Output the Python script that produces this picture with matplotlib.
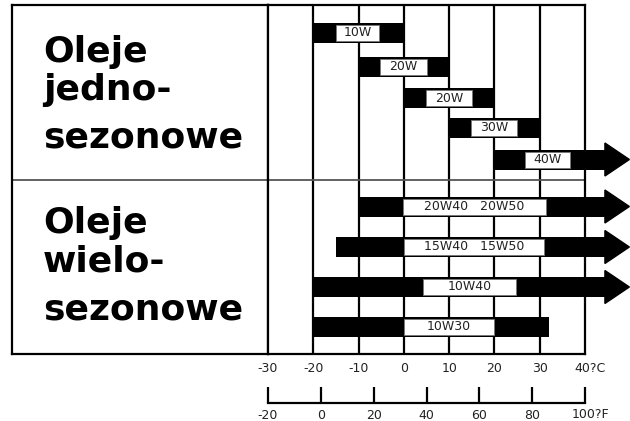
import matplotlib.pyplot as plt
from matplotlib.patches import Polygon, Rectangle
from matplotlib.transforms import blended_transform_factory

# oil grades and their temperature ranges (deg C), None = open ended (arrow)
single_grades = ["10W", "20W", "20W", "30W", "40W"]
single_min = [-20, -10, 0, 10, 20]
single_max = [0, 10, 20, 30, None]

multi_grades = ["20W40   20W50", "15W40   15W50", "10W40", "10W30"]
multi_min = [-10, -15, -20, -20]
multi_max = [None, None, None, 32]

c_ticks = [-30, -20, -10, 0, 10, 20, 30, 40]
f_ticks = [-20, 0, 20, 40, 60, 80, 100]
group_titles = [["Oleje", "jedno-", "sezonowe"], ["Oleje", "wielo-", "sezonowe"]]

# layout (y in pixels from the top of the frame)
single_y = [28, 62, 93, 122.5, 154.5]
multi_y = [201.5, 242, 282, 322]
single_box = [(-15, -5.5), (-5.3, 5.1), (4.9, 15), (14.8, 25), (26.7, 36.7)]
multi_box = [(-0.2, 31.4), (0, 31), (4.2, 24.7), (0, 20)]
title_base = [[57, 95, 143], [228, 267, 315]]
head_base, head_tip = 44.4, 49.8

W, H = 630, 421


def box(l, t, r, b):
    return [l / W, 1 - b / H, (r - l) / W, (b - t) / H]


fig = plt.figure(figsize=(6.3, 4.21), dpi=100)
fig.patch.set_facecolor("white")

# left title panel (added first so the chart's spine sits on top)
axl = fig.add_axes(box(12, 5, 268, 354))
axl.set_xlim(0, 256)
axl.set_ylim(349, 0)
axl.set_xticks([])
axl.set_yticks([])
for s in axl.spines.values():
    s.set_linewidth(1.6)
axl.axhline(174.5, color="#555", lw=1.3)
for lines, bases in zip(group_titles, title_base):
    for txt, yb in zip(lines, bases):
        axl.text(31, yb, txt, ha="left", va="baseline", fontsize=26,
                 fontweight="bold", color="k")

ax = fig.add_axes(box(268, 5, 585, 354))
ax.set_xlim(-30, 40)
ax.set_ylim(349, 0)
ax.set_yticks([])
for s in ax.spines.values():
    s.set_linewidth(1.6)
for t in c_ticks[1:-1]:
    ax.axvline(t, color="k", lw=1.6, zorder=1)
ax.axhline(174.5, color="#555", lw=1.3, zorder=1)


def draw_rows(names, lo, hi, ys, boxes):
    for name, a, b, y, (bl, br) in zip(names, lo, hi, ys, boxes):
        end = head_base if b is None else b
        ax.barh(y, end - a, left=a, height=20, color="k", zorder=2, clip_on=False)
        if b is None:
            ax.add_patch(Polygon([(head_base, y - 16.5), (head_base, y + 16.5), (head_tip, y)],
                                 closed=True, color="k", zorder=2, clip_on=False))
        ax.add_patch(Rectangle((bl, y - 8), br - bl, 16, fc="white", ec="#777",
                               lw=0.6, zorder=3))
        ax.text((bl + br) / 2, y, name, ha="center", va="center", fontsize=9,
                color="#222", zorder=4)


draw_rows(single_grades, single_min, single_max, single_y, single_box)
draw_rows(multi_grades, multi_min, multi_max, multi_y, multi_box)

ax.set_xticks(c_ticks)
ax.set_xticklabels([str(t) for t in c_ticks[:-1]] + [""])
ax.tick_params(axis="x", length=0, pad=6, labelsize=9, labelcolor="#222")
ax.text(41.2, 364, "40?C", ha="center", va="center", fontsize=9, color="#222",
        clip_on=False)

# fahrenheit scale
axf = fig.add_axes(box(268, 380, 585, 403))
axf.set_xlim(-20, 100)
axf.set_yticks([])
for k in ["top", "left", "right"]:
    axf.spines[k].set_visible(False)
axf.spines["bottom"].set_linewidth(1.6)
axf.patch.set_alpha(0)
axf.set_xticks(f_ticks)
axf.set_xticklabels([str(t) for t in f_ticks[:-1]] + [""])
axf.tick_params(axis="x", direction="in", length=11.5, width=1.6, pad=4,
                labelsize=9, labelcolor="#222")
axf.text(101.9, -0.52, "100?F", ha="center", va="center", fontsize=9, color="#222",
         transform=blended_transform_factory(axf.transData, axf.transAxes), clip_on=False)

fig.savefig("out.png", dpi=100)
